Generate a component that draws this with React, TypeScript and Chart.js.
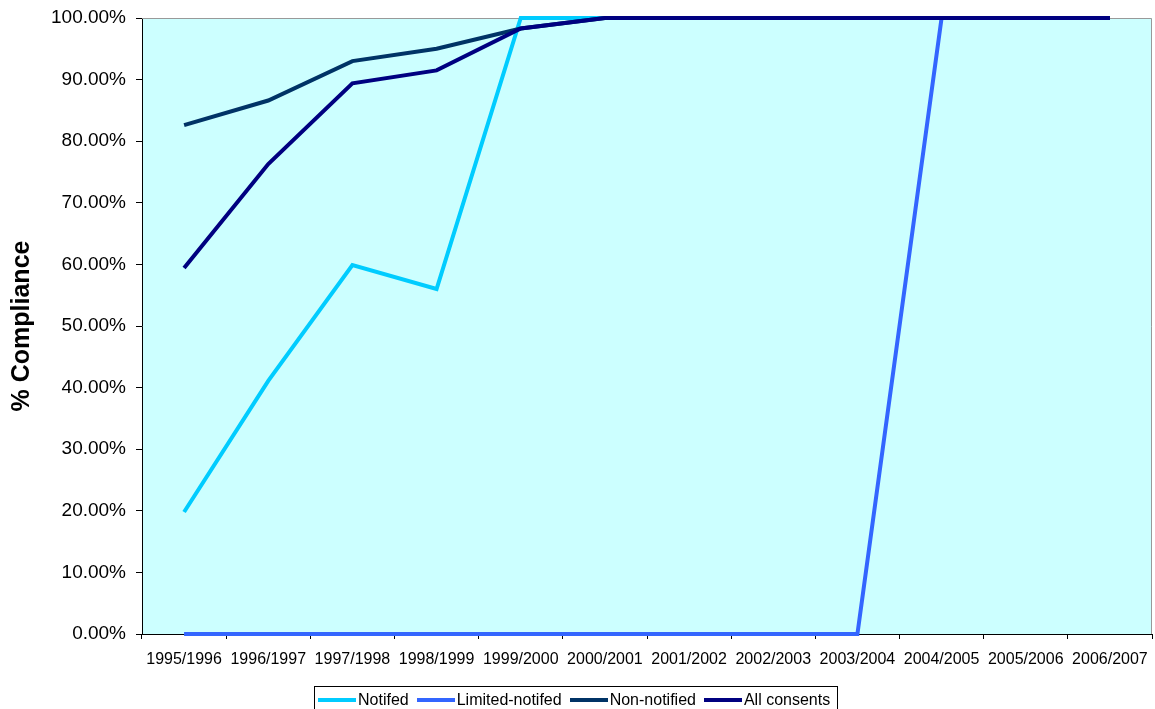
import React, { useEffect, useRef } from "react";
import { Chart, registerables } from "chart.js";

Chart.register(...registerables);

const categories = [
  "1995/1996", "1996/1997", "1997/1998", "1998/1999", "1999/2000", "2000/2001",
  "2001/2002", "2002/2003", "2003/2004", "2004/2005", "2005/2006", "2006/2007",
];

const notified = [19.8, 41.1, 59.9, 56.0, 100, 100, 100, 100, 100, 100, 100, 100];
const limitedNotified = [0, 0, 0, 0, 0, 0, 0, 0, 0, 100, 100, 100];
const nonNotified = [82.6, 86.6, 93.0, 95.0, 98.3, 100, 100, 100, 100, 100, 100, 100];
const allConsents = [59.4, 76.3, 89.4, 91.5, 98.3, 100, 100, 100, 100, 100, 100, 100];

const seriesNames = ["Notifed", "Limited-notifed", "Non-notified", "All consents"];
const seriesColors = ["#00CCFF", "#3366FF", "#003366", "#000080"];

const FONT = "Arial, 'Liberation Sans', sans-serif";

// Fills the plot area and draws the grey frame on its top and right sides
const plotFrame = {
  id: "plotFrame",
  beforeDraw(chart: any) {
    const { ctx, chartArea: a } = chart;
    ctx.save();
    ctx.fillStyle = "#CCFFFF";
    ctx.fillRect(a.left, a.top, a.right - a.left, a.bottom - a.top);
    ctx.restore();
  },
  beforeDatasetsDraw(chart: any) {
    const { ctx, chartArea: a } = chart;
    ctx.save();
    ctx.strokeStyle = "#999999";
    ctx.lineWidth = 1;
    ctx.beginPath();
    ctx.moveTo(a.left, a.top + 0.5);
    ctx.lineTo(a.right - 0.5, a.top + 0.5);
    ctx.lineTo(a.right - 0.5, a.bottom);
    ctx.stroke();
    ctx.restore();
  },
};

export default function App() {
  const canvasRef = useRef<HTMLCanvasElement | null>(null);

  useEffect(() => {
    if (!canvasRef.current) return;
    const series = [notified, limitedNotified, nonNotified, allConsents];
    const chart = new Chart(canvasRef.current, {
      type: "line",
      data: {
        labels: categories,
        datasets: series.map((values, i) => ({
          label: seriesNames[i],
          data: values,
          borderColor: seriesColors[i],
          backgroundColor: seriesColors[i],
          borderWidth: 4,
          pointRadius: 0,
          tension: 0,
          clip: false as any,
          order: 3 - i,
        })),
      },
      options: {
        animation: false,
        responsive: false,
        layout: { padding: { left: 0, right: 3, top: 18, bottom: 35 } },
        plugins: {
          legend: { display: false },
          tooltip: { enabled: false },
        },
        scales: {
          x: {
            type: "category",
            offset: true,
            grid: {
              offset: true,
              drawOnChartArea: false,
              color: "#000000",
              tickLength: 5,
            },
            border: { color: "#000000", width: 1 },
            ticks: {
              color: "#000000",
              font: { family: FONT, size: 16 },
              maxRotation: 0,
              autoSkip: false,
              padding: 11,
            },
            afterFit(scale: any) {
              scale.height = 40;
              scale.paddingLeft = 0;
              scale.paddingRight = 0;
            },
          },
          y: {
            min: 0,
            max: 100,
            grid: {
              drawOnChartArea: false,
              color: "#000000",
              tickLength: 6,
            },
            border: { color: "#000000", width: 1 },
            ticks: {
              stepSize: 10,
              color: "#000000",
              font: { family: FONT, size: 19 },
              padding: 10,
              callback: (v: any) => Number(v).toFixed(2) + "%",
            },
            title: {
              display: true,
              text: "% Compliance",
              color: "#000000",
              font: { family: FONT, size: 25, weight: "bold" },
              padding: { top: 7, bottom: 0 },
            },
            afterFit(scale: any) {
              scale.width = 142;
              scale.paddingTop = 0;
              scale.paddingBottom = 0;
            },
          },
        },
      },
      plugins: [plotFrame],
    });
    return () => chart.destroy();
  }, []);

  return (
    <div style={{ position: "fixed", left: 0, top: 0, width: 1155, height: 709, background: "#fff", overflow: "hidden" }}>
      <canvas ref={canvasRef} width={1155} height={709} style={{ display: "block" }} />
      <div
        style={{
          position: "absolute",
          left: 314,
          top: 686,
          width: 524,
          height: 28,
          border: "1px solid #000",
          boxSizing: "border-box",
          display: "flex",
          alignItems: "flex-start",
          paddingLeft: 3,
          paddingTop: 3,
          fontFamily: FONT,
          fontSize: 16,
          color: "#000",
          whiteSpace: "nowrap",
        }}
      >
        {seriesNames.map((name, i) => (
          <div key={name} style={{ display: "flex", alignItems: "center", marginRight: 8, height: 20 }}>
            <span style={{ display: "inline-block", width: 38, height: 4, background: seriesColors[i], marginRight: 2 }} />
            <span>{name}</span>
          </div>
        ))}
      </div>
    </div>
  );
}
